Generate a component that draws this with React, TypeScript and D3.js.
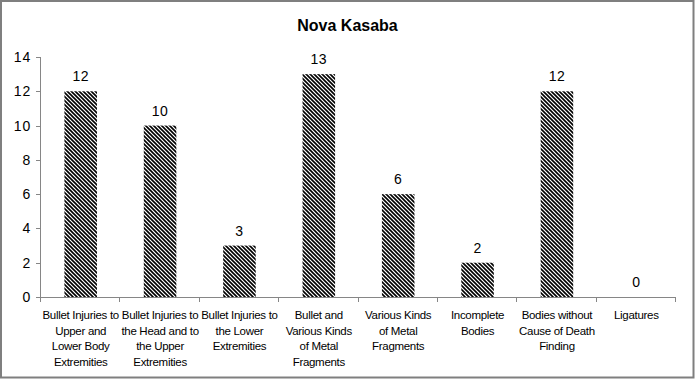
import React from "react";
import * as d3 from "d3";

const categories: string[][] = [
  ["Bullet Injuries to", "Upper and", "Lower Body", "Extremities"],
  ["Bullet Injuries to", "the Head and to", "the Upper", "Extremities"],
  ["Bullet Injuries to", "the Lower", "Extremities"],
  ["Bullet and", "Various Kinds", "of Metal", "Fragments"],
  ["Various Kinds", "of Metal", "Fragments"],
  ["Incomplete", "Bodies"],
  ["Bodies without", "Cause of Death", "Finding"],
  ["Ligatures"],
];
const values: number[] = [12, 10, 3, 13, 6, 2, 12, 0];
const yTicks: number[] = [0, 2, 4, 6, 8, 10, 12, 14];
const title = "Nova Kasaba";

export default function App() {
  const W = 695, H = 379;
  const left = 40, right = 675, top = 57, bottom = 297;
  const x = d3.scaleBand<number>().domain(d3.range(values.length)).range([left, right]).paddingInner(0).paddingOuter(0);
  const y = d3.scaleLinear().domain([0, 14]).range([bottom, top]);
  const bw = x.bandwidth() * 0.41;
  const font = "'Liberation Sans', Arial, sans-serif";
  const axisColor = "#868686";
  return (
    <svg width={W} height={H} style={{ position: "absolute", left: 0, top: 0, display: "block" }} fontFamily={font}>
      <defs>
        <pattern id="hatch" patternUnits="userSpaceOnUse" width="4" height="4">
          <rect width="4" height="4" fill="#fff" />
          <path d="M-1,-1 L5,5 M-1,3 L1,5 M3,-1 L5,1" stroke="#000" strokeWidth="1.6" />
        </pattern>
      </defs>
      <rect x={0} y={0} width={W} height={H} fill="#fff" />
      <rect x={1} y={1} width={W - 2.5} height={H - 2.5} fill="none" stroke="#7f7f7f" strokeWidth={2} />
      <text x={W / 2} y={31} textAnchor="middle" fontWeight="bold" fontSize={16} fill="#000">{title}</text>
      {/* y axis */}
      <line x1={left + 0.5} x2={left + 0.5} y1={top} y2={bottom} stroke={axisColor} />
      {yTicks.map((t) => (
        <g key={t}>
          <line x1={left - 4} x2={left} y1={Math.round(y(t)) + 0.5} y2={Math.round(y(t)) + 0.5} stroke={axisColor} />
          <text x={left - 9} y={y(t) + 5} textAnchor="end" fontSize={14} letterSpacing={0.8} fill="#000">{t}</text>
        </g>
      ))}
      {/* x axis */}
      <line x1={left} x2={right} y1={bottom + 0.5} y2={bottom + 0.5} stroke={axisColor} />
      {d3.range(values.length + 1).map((i) => {
        const xx = Math.round(left + i * x.step()) + 0.5;
        return <line key={i} x1={xx} x2={xx} y1={bottom} y2={bottom + 5} stroke={axisColor} />;
      })}
      {values.map((v, i) => {
        const cx = (x(i) as number) + x.bandwidth() / 2 + 1;
        return (
          <g key={i}>
            {v > 0 && (
              <rect x={cx - bw / 2} y={y(v)} width={bw} height={bottom - y(v)} fill="url(#hatch)" />
            )}
            <text x={cx} y={y(v) - 10} textAnchor="middle" fontSize={14} letterSpacing={0.5} fill="#000">{v}</text>
            {categories[i].map((line, j) => (
              <text key={j} x={cx} y={319 + j * 15.5} textAnchor="middle" fontSize={11.5} fill="#000" letterSpacing={-0.3}>{line}</text>
            ))}
          </g>
        );
      })}
    </svg>
  );
}
